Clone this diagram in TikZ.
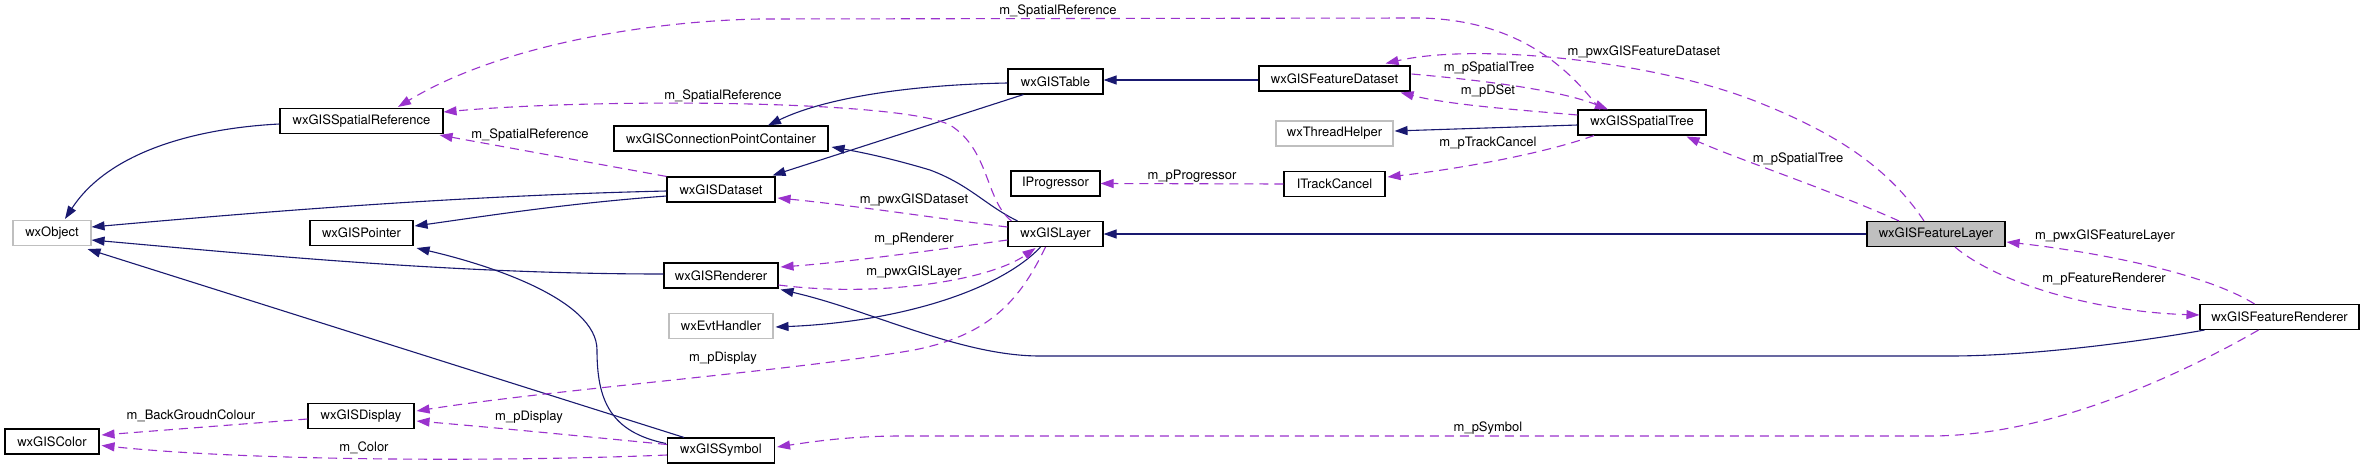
\documentclass[tikz,border=0pt]{standalone}
\usepackage{fontspec}
\setmainfont{TeX Gyre Heros}
\usetikzlibrary{arrows.meta,calc}
\definecolor{inhblue}{RGB}{25,25,112}
\definecolor{usepurple}{RGB}{154,50,205}
\definecolor{boxgray}{RGB}{191,191,191}
\begin{document}
\begin{tikzpicture}[x=1pt,y=-1pt,
  cls/.style={draw=black, line width=1.1pt, minimum height=25pt, inner sep=0pt,
    font=\fontsize{13}{15}\selectfont, fill=white},
  ext/.style={cls, draw=boxgray},
  cur/.style={cls, fill=boxgray},
  lbl/.style={inner sep=0pt, font=\fontsize{13}{15}\selectfont},
  inh/.style={draw=inhblue, line width=1.1pt, -{Triangle[length=13pt,width=9pt]}},
  use/.style={draw=usepurple, line width=1.1pt, dash pattern=on 9pt off 6pt,
    -{Triangle[length=13pt,width=9pt]}}]
\fill[white] (0,0) rectangle (2365,469);
\useasboundingbox (0,0) rectangle (2365,469);

% nodes
\node[ext, minimum width=78pt]  (obj)   at (52,233)     {wxObject};
\node[cls, minimum width=94pt]  (color) at (52,441.5)   {wxGISColor};
\node[cls, minimum width=163pt] (sr)    at (361.5,121)  {wxGISSpatialReference};
\node[cls, minimum width=103pt] (ptr)   at (361.5,233)  {wxGISPointer};
\node[cls, minimum width=106pt] (disp)  at (361,416)    {wxGISDisplay};
\node[cls, minimum width=214pt] (cpc)   at (721,138.5)  {wxGISConnectionPointContainer};
\node[cls, minimum width=108pt] (ds)    at (721,189.5)  {wxGISDataset};
\node[cls, minimum width=114pt] (rend)  at (721,275.5)  {wxGISRenderer};
\node[ext, minimum width=104pt] (evt)   at (721,326)    {wxEvtHandler};
\node[cls, minimum width=107pt] (sym)   at (721,450.5)  {wxGISSymbol};
\node[cls, minimum width=95pt]  (tbl)   at (1055.5,81.5) {wxGISTable};
\node[cls, minimum width=89pt]  (prog)  at (1055.5,183.5) {IProgressor};
\node[cls, minimum width=95pt]  (lay)   at (1055.5,234) {wxGISLayer};
\node[cls, minimum width=151pt] (fds)   at (1334.5,78.5) {wxGISFeatureDataset};
\node[ext, minimum width=117pt] (th)    at (1334.5,133.5) {wxThreadHelper};
\node[cls, minimum width=101pt] (tc)    at (1334.5,184) {ITrackCancel};
\node[cls, minimum width=128pt] (st)    at (1642,122.5) {wxGISSpatialTree};
\node[cur, minimum width=138pt] (fl)    at (1936,234)   {wxGISFeatureLayer};
\node[cls, minimum width=159pt] (fr)    at (2279.5,317) {wxGISFeatureRenderer};

% inheritance edges
\draw[inh] ($(sr.west)+(0,3)$) .. controls (200,128) and (110,150) .. ($(obj.north)+(13,-1)$);
\draw[inh] ($(ds.west)+(0,1.5)$) .. controls (450,196) and (250,213) .. ($(obj.east)+(0,-6)$);
\draw[inh] ($(ds.west)+(0,6.5)$) .. controls (560,204) and (480,217) .. ($(ptr.east)+(1,-7)$);
\draw[inh] ($(rend.west)+(0,-1.5)$) .. controls (450,274) and (250,254) .. ($(obj.east)+(0,7)$);
\draw[inh] ($(sym.north)+(-37,0)$) -- ($(obj.south east)+(-4,3)$);
\draw[inh] ($(sym.west)+(-1,-7)$) .. controls (610,432) and (597,400) .. (597,350)
  .. controls (597,300) and (490,265) .. ($(ptr.south east)+(3,2)$);
\draw[inh] ($(tbl.west)+(0,1.5)$) .. controls (900,85) and (820,100) .. ($(cpc.north)+(47,0)$);
\draw[inh] ($(tbl.south)+(-32,0)$) -- ($(ds.north east)+(-3,-1)$);
\draw[inh] ($(lay.north)+(-38,0)$) .. controls (985,205) and (970,185) .. (930,170)
  .. controls (890,158) and (860,152) .. ($(cpc.east)+(3,8.5)$);
\draw[inh] ($(lay.south)+(-15,0)$) .. controls (1000,290) and (900,322) .. ($(evt.east)+(2,1)$);
\draw[inh] ($(fds.west)+(0,1.5)$) -- ($(tbl.east)+(0,-1.5)$);
\draw[inh] ($(st.west)+(0,2.5)$) -- ($(th.east)+(1,-2.5)$);
\draw[inh] (fl.west) -- (lay.east);
\draw[inh] ($(fr.south west)+(5,0)$) .. controls (2120,345) and (2020,356) .. (1950,356)
  -- (1040,356) .. controls (960,356) and (870,310) .. ($(rend.south east)+(2,1)$);

% usage edges
\draw[use] ($(st.north)+(-42,0)$) .. controls (1570,70) and (1520,20) .. (1420,18)
  -- (760,19) .. controls (650,21) and (500,45) .. ($(sr.north)+(36.5,-1)$);
\node[lbl] (l1) at (1058,11) {m\_SpatialReference};

\draw[use] ($(lay.north west)+(4,0)$) .. controls (985,200) and (990,150) .. (950,125)
  .. controls (900,100) and (600,98) .. ($(sr.east)+(0,-9)$);
\node[lbl] (l2) at (723,96) {m\_SpatialReference};

\draw[use] (ds.north west) -- ($(sr.south east)+(-4,1)$);
\node[lbl] (l3) at (530,135) {m\_SpatialReference};

\draw[use] ($(lay.west)+(0,-7)$) .. controls (950,220) and (850,205) .. ($(ds.east)+(2,8.5)$);
\node[lbl] (l4) at (914,200) {m\_pwxGISDataset};

\draw[use] ($(lay.west)+(0,6)$) .. controls (950,248) and (850,262) .. ($(rend.east)+(2,-8.5)$);
\node[lbl] (l5) at (914,239) {m\_pRenderer};

\draw[use] ($(rend.east)+(0,9.5)$) .. controls (880,298) and (990,280) .. ($(lay.south)+(-20,1)$);
\node[lbl] (l6) at (914,272) {m\_pwxGISLayer};

\draw[use] ($(lay.south)+(-10,0)$) .. controls (1020,300) and (990,335) .. (914,350)
  .. controls (800,370) and (550,390) .. ($(disp.east)+(2,-5)$);
\node[lbl] (l7) at (723,358) {m\_pDisplay};

\draw[use] ($(sym.west)+(0,-6)$) .. controls (600,438) and (500,428) .. ($(disp.east)+(2,5)$);
\node[lbl] (l8) at (529,417) {m\_pDisplay};

\draw[use] ($(disp.west)+(0,3)$) -- ($(color.east)+(2,-6.5)$);
\node[lbl] (l9) at (191,416) {m\_BackGroudnColour};

\draw[use] ($(sym.west)+(0,4.5)$) .. controls (500,462) and (250,461) .. ($(color.east)+(2,4)$);
\node[lbl] (l10) at (364,448) {m\_Color};

\draw[use] ($(fr.south)+(-21,0)$) .. controls (2180,375) and (2050,436) .. (1930,436)
  -- (900,436) .. controls (850,436) and (810,442) .. ($(sym.east)+(2,-3.5)$);
\node[lbl] (l11) at (1488,428) {m\_pSymbol};

\draw[use] (tc.west) -- (prog.east);
\node[lbl] (l12) at (1192,176) {m\_pProgressor};

\draw[use] ($(st.south)+(-48,0)$) .. controls (1540,155) and (1450,170) .. ($(tc.east)+(2,-7)$);
\node[lbl] (l13) at (1488,143) {m\_pTrackCancel};

\draw[use] ($(fds.east)+(1,-4.5)$) .. controls (1480,80) and (1560,90) .. ($(st.north)+(-34,0)$);
\node[lbl] (l14) at (1489,68) {m\_pSpatialTree};

\draw[use] ($(st.west)+(0,-7.5)$) .. controls (1520,110) and (1450,105) .. ($(fds.south east)+(-10,1)$);
\node[lbl] (l15) at (1488,91) {m\_pDSet};

\draw[use] ($(fl.north)+(-12,0)$) .. controls (1890,170) and (1840,135) .. (1760,103)
  .. controls (1660,62) and (1480,42) .. ($(fds.north east)+(-25,-2)$);
\node[lbl] (l16) at (1644,52) {m\_pwxGISFeatureDataset};

\draw[use] ($(fl.north)+(-37,0)$) .. controls (1830,190) and (1740,160) .. ($(st.south east)+(-20,1)$);
\node[lbl] (l17) at (1798,159) {m\_pSpatialTree};

\draw[use] ($(fl.south)+(19,0)$) .. controls (2000,285) and (2100,312) .. ($(fr.west)+(0,-2)$);
\node[lbl] (l18) at (2104,279) {m\_pFeatureRenderer};

\draw[use] ($(fr.north)+(-25,0)$) .. controls (2200,270) and (2080,250) .. ($(fl.east)+(1,8)$);
\node[lbl] (l19) at (2105,236) {m\_pwxGISFeatureLayer};
\end{tikzpicture}
\end{document}
